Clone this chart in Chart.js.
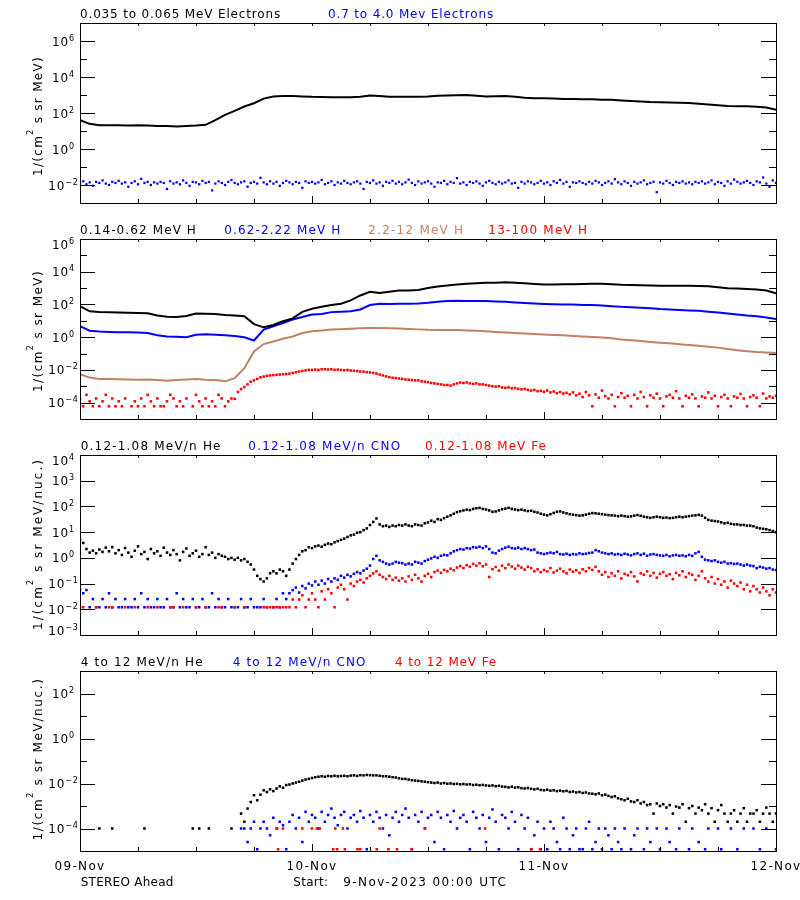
<!DOCTYPE html>
<html>
<head>
<meta charset="utf-8">
<title>STEREO Ahead particle fluxes</title>
<script src="https://cdn.jsdelivr.net/npm/chart.js@4.4.1/dist/chart.umd.min.js"></script>
<style>
  body { margin: 0; background: #fff; }
  #page { position: relative; width: 800px; height: 900px; }
  #page canvas { position: absolute; left: 0; top: 0; }
</style>
</head>
<body>
<div id="page">
  <canvas id="panel1" width="800" height="900"></canvas>
  <canvas id="panel2" width="800" height="900"></canvas>
  <canvas id="panel3" width="800" height="900"></canvas>
  <canvas id="panel4" width="800" height="900"></canvas>
</div>
<script>
// Hours since 9-Nov-2023 00:00 UTC
const tickHours = [6, 12, 18, 24, 30, 36, 42, 48, 54, 60, 66];
const dayHours = [0, 24, 48, 72];
const dayLabels = ['09-Nov', '10-Nov', '11-Nov', '12-Nov'];

// Panel 1: electrons (elecLow hourly, elecHigh every 20 min)
const elecLow = [
  40, 25, 21, 21, 21, 20, 21, 20, 19, 19, 18, 19,
  20, 22, 40, 79, 130, 230, 350, 630, 830, 890, 890, 830,
  790, 780, 760, 740, 740, 790, 930, 890, 810, 810, 790, 790,
  830, 910, 950, 980, 1000, 910, 830, 850, 890, 790, 710, 660,
  650, 630, 600, 600, 575, 575, 550, 540, 500, 470, 440, 410,
  400, 380, 370, 360, 330, 300, 270, 245, 240, 235, 220, 200,
  150
];
const elecHigh = [
  0.013, 0.016, 0.011, 0.014, 0.009, 0.015, 0.013, 0.018, 0.012, 0.010, 0.015, 0.013,
  0.017, 0.012, 0.014, 0.008, 0.013, 0.016, 0.011, 0.022, 0.013, 0.015, 0.010, 0.014,
  0.012, 0.015, 0.013, 0.006, 0.016, 0.012, 0.014, 0.011, 0.018, 0.013, 0.009, 0.015,
  0.014, 0.011, 0.017, 0.013, 0.015, 0.005, 0.012, 0.016, 0.013, 0.010, 0.015, 0.019,
  0.013, 0.011, 0.014, 0.016, 0.008, 0.013, 0.015, 0.012, 0.025, 0.014, 0.011, 0.016,
  0.012, 0.015, 0.009, 0.013, 0.017, 0.014, 0.011, 0.015, 0.013, 0.007, 0.016, 0.013,
  0.015, 0.012, 0.014, 0.019, 0.011, 0.013, 0.016, 0.010, 0.014, 0.012, 0.017, 0.013,
  0.011, 0.014, 0.016, 0.012, 0.006, 0.015, 0.013, 0.018, 0.012, 0.014, 0.009, 0.015,
  0.013, 0.017, 0.012, 0.015, 0.011, 0.014, 0.020, 0.013, 0.010, 0.016, 0.012, 0.014,
  0.016, 0.012, 0.008, 0.014, 0.013, 0.017, 0.011, 0.015, 0.013, 0.024, 0.012, 0.014,
  0.010, 0.015, 0.013, 0.016, 0.012, 0.009, 0.014, 0.017, 0.013, 0.011, 0.015, 0.012,
  0.014, 0.018, 0.012, 0.013, 0.007, 0.015, 0.012, 0.016, 0.014, 0.011, 0.013, 0.017,
  0.012, 0.014, 0.010, 0.016, 0.013, 0.019, 0.012, 0.015, 0.008, 0.014, 0.013, 0.016,
  0.013, 0.011, 0.015, 0.012, 0.017, 0.014, 0.010, 0.013, 0.016, 0.012, 0.021, 0.014,
  0.011, 0.016, 0.013, 0.009, 0.015, 0.012, 0.014, 0.018, 0.011, 0.013, 0.015, 0.004,
  0.014, 0.012, 0.017, 0.013, 0.010, 0.015, 0.013, 0.016, 0.012, 0.014, 0.011, 0.015,
  0.013, 0.016, 0.012, 0.014, 0.018, 0.011, 0.015, 0.013, 0.009, 0.016, 0.012, 0.020,
  0.015, 0.012, 0.014, 0.017, 0.013, 0.010, 0.016, 0.014, 0.026, 0.012, 0.008, 0.018,
  0.013
];

// Panel 2: protons (first three hourly, protonTop every 20 min)
const protonLow = [
  79, 38, 34, 33, 32, 31, 30, 29, 21, 18, 17, 20,
  28, 27, 26, 23, 21, 19, 6.3, 4.0, 5.6, 9.5, 14, 35,
  55, 72, 92, 110, 178, 355, 600, 500, 600, 720, 720, 760,
  1000, 1260, 1450, 1660, 1860, 2000, 2090, 2140, 2240, 2140, 1950, 1780,
  1660, 1660, 1700, 1700, 1780, 1860, 1820, 1700, 1580, 1550, 1480, 1450,
  1410, 1410, 1410, 1410, 1350, 1290, 1120, 980, 930, 890, 830, 710,
  480
];
const protonMid = [
  4.7, 2.5, 2.2, 2.1, 2.0, 2.0, 1.9, 1.8, 1.3, 1.1, 1.05, 1.0,
  1.4, 1.5, 1.4, 1.3, 1.2, 1.0, 0.63, 2.9, 4.7, 7.4, 12, 17,
  24, 26, 34, 36, 39, 49, 92, 110, 107, 110, 112, 115,
  126, 145, 162, 166, 162, 162, 162, 151, 145, 132, 123, 115,
  107, 102, 100, 98, 93, 91, 87, 79, 72, 68, 63, 58,
  52, 49, 46, 43, 41, 36, 32, 28, 24, 21, 19, 16,
  13
];
const protonHigh = [
  0.0054, 0.0034, 0.0028, 0.0028, 0.0027, 0.0026, 0.0025, 0.0026, 0.0024, 0.0022, 0.0024, 0.0026,
  0.0028, 0.0025, 0.0024, 0.0020, 0.0031, 0.0126, 0.135, 0.38, 0.55, 0.81, 1.1, 1.8,
  2.3, 2.6, 2.9, 3.1, 3.3, 3.5, 3.7, 3.6, 3.5, 3.4, 3.2, 3.0,
  2.8, 2.75, 2.75, 2.7, 2.6, 2.45, 2.3, 2.1, 1.95, 1.8, 1.66, 1.55,
  1.45, 1.35, 1.29, 1.2, 1.12, 1.02, 0.95, 0.85, 0.72, 0.65, 0.58, 0.51,
  0.46, 0.42, 0.37, 0.33, 0.30, 0.26, 0.23, 0.19, 0.16, 0.14, 0.126, 0.117,
  0.107
];
const protonTop = [
  1.8e-4, 6e-5, 3e-4, 1.2e-4, 6e-5, 1.8e-4, 6e-5, 1.2e-4, 3e-4, 6e-5, 1.8e-4, 6e-5,
  1.2e-4, 6e-5, 1.8e-4, null, 6e-5, 1.2e-4, 6e-5, 1.8e-4, 6e-5, 3e-4, 1.2e-4, 6e-5,
  1.8e-4, 6e-5, 6e-5, 1.2e-4, 3e-4, 1.8e-4, 6e-5, 1.2e-4, 6e-5, 1.8e-4, null, 6e-5,
  3e-4, 1.2e-4, 6e-5, 1.8e-4, 6e-5, 1.2e-4, 6e-5, 3e-4, 1.8e-4, 6e-5, 1.2e-4, 1.8e-4,
  1.7e-4, 4.5e-4, 6.8e-4, 9e-4, 1.3e-3, 1.9e-3, 2.3e-3, 2.8e-3, 3.5e-3, 3.9e-3, 4.4e-3, 4.6e-3,
  4.8e-3, 5.0e-3, 5.2e-3, 5.4e-3, 5.6e-3, 6.0e-3, 6.5e-3, 7.2e-3, 8.0e-3, 8.6e-3, 9.3e-3, 1.0e-2,
  1.0e-2, 1.05e-2, 1.0e-2, 1.1e-2, 1.1e-2, 1.05e-2, 1.1e-2, 1.0e-2, 1.05e-2, 1.0e-2, 9.5e-3, 9.8e-3,
  9.2e-3, 8.8e-3, 8.5e-3, 8.0e-3, 7.8e-3, 7.3e-3, 7.0e-3, 6.5e-3, 6.0e-3, 5.2e-3, 4.6e-3, 4.0e-3,
  3.6e-3, 3.3e-3, 3.2e-3, 3.0e-3, 2.8e-3, 2.6e-3, 2.5e-3, 2.4e-3, 2.3e-3, 2.3e-3, 2.0e-3, 1.9e-3,
  1.8e-3, 1.6e-3, 1.5e-3, 1.4e-3, 1.3e-3, 1.2e-3, 1.2e-3, 1.1e-3, 1.3e-3, 1.5e-3, 1.7e-3, 1.6e-3,
  1.7e-3, 1.5e-3, 1.4e-3, 1.5e-3, 1.3e-3, 1.3e-3, 1.2e-3, 1.1e-3, 1.0e-3, 9.5e-4, 1.0e-3, 8.5e-4,
  8.0e-4, 8.5e-4, 7.5e-4, 7.8e-4, 7.0e-4, 6.5e-4, 6.8e-4, 6.0e-4, 5.5e-4, 6.0e-4, 5.0e-4, 5.2e-4,
  4.6e-4, 5.5e-4, 4.2e-4, 4.8e-4, 3.8e-4, 4.4e-4, 3.6e-4, 4.0e-4, 3.2e-4, 4.2e-4, 2.8e-4, 3.5e-4,
  2.2e-4, 4.5e-4, 2.8e-4, 6e-5, 3.2e-4, 2.0e-4, 5.5e-4, 2.5e-4, 1.8e-4, 3.0e-4, 6e-5, 2.2e-4,
  3.8e-4, 2.0e-4, 2.6e-4, 6e-5, 3.0e-4, 1.8e-4, 4.5e-4, 2.2e-4, 6e-5, 2.8e-4, 2.0e-4, 3.5e-4,
  1.8e-4, 6e-5, 2.4e-4, 3.0e-4, 2.0e-4, 5e-4, 1.8e-4, 6e-5, 2.6e-4, 2.0e-4, 3.2e-4, 1.8e-4,
  6e-5, 2.4e-4, 2.0e-4, 4.2e-4, 1.8e-4, 2.6e-4, 6e-5, 2.2e-4, 3.0e-4, 1.8e-4, 6e-5, 2.4e-4,
  2.0e-4, 3.4e-4, 1.8e-4, 6e-5, 2.2e-4, 2.8e-4, 2.0e-4, 6e-5, 3.6e-4, 1.8e-4, 2.4e-4, 2.0e-4,
  2.6e-4
];

// Panel 3: 0.12-1.08 MeV/n ions, every 20 min
const heLow = [
  5.0, 3.8, 2.2, 1.6, 1.9, 1.5, 2.1, 1.7, 2.5, 1.8, 2.6, 1.5,
  2.0, 1.3, 2.4, 1.6, 1.1, 1.9, 2.8, 1.4, 1.7, 0.9, 2.2, 1.5,
  1.8, 1.2, 2.5, 1.6, 1.3, 2.0, 1.4, 0.8, 1.7, 2.3, 1.2, 1.5,
  1.9, 1.1, 1.4, 2.6, 1.3, 1.6, 1.0, 1.4, 1.2, 1.1, 0.9, 1.0,
  0.85, 1.0, 0.8, 0.9, 0.7, 0.55, 0.35, 0.2, 0.15, 0.12, 0.16, 0.25,
  0.3, 0.25, 0.35, 0.3, 0.2, 0.35, 0.6, 0.9, 1.3, 1.8, 2.0, 2.6,
  2.4, 2.8, 3.0, 2.7, 3.2, 3.6, 3.4, 4.0, 4.5, 5.0, 5.6, 6.5,
  7.5, 8.0, 9.5, 10, 12, 14, 19, 25, 34, 20, 17, 18,
  16, 18, 17, 19, 18, 20, 18, 17, 20, 19, 18, 22,
  24, 28, 25, 32, 30, 35, 40, 45, 52, 60, 65, 70,
  75, 72, 80, 85, 88, 80, 76, 70, 62, 64, 70, 78,
  82, 88, 80, 76, 72, 75, 70, 66, 68, 62, 58, 52,
  48, 45, 50, 56, 62, 64, 58, 54, 50, 48, 46, 44,
  45, 48, 52, 55, 54, 52, 50, 48, 46, 45, 44, 42,
  44, 42, 40, 41, 44, 46, 43, 40, 38, 36, 38, 40,
  38, 36, 37, 35, 36, 38, 40, 38, 40, 42, 44, 45,
  47, 44, 36, 30, 28, 27, 26, 24, 22, 23, 21, 20,
  20, 19, 19, 18, 18, 17, 15, 14, 13.5, 13, 12, 11, 10
];
const cnoLow = [
  0.056, 0.042, 0.056,
  0.012, 0.025, 0.012, 0.012, 0.025, 0.012, 0.042, 0.012, 0.025, 0.012, 0.012, 0.025,
  0.012, 0.012, 0.025, 0.012, 0.042, 0.012, 0.025, 0.012, 0.012, 0.025, 0.012, 0.012,
  0.025, 0.012, 0.012, 0.042, 0.012, 0.025, 0.012, 0.012, 0.025, 0.012, 0.012, 0.025,
  0.012, 0.012, 0.042, 0.012, 0.025, 0.012, 0.012, 0.025, 0.012, 0.012, 0.012, 0.025,
  0.012, 0.012, 0.025, 0.012, 0.012, 0.012, 0.025, 0.012, null, 0.012, 0.025, 0.012,
  0.042, 0.025, 0.042, 0.056, 0.07, 0.045, 0.08, 0.065, 0.1, 0.085, 0.12, 0.09,
  0.13, 0.1, 0.15, 0.12, 0.16, 0.14, 0.2, 0.17, 0.22, 0.19, 0.24, 0.28,
  0.25, 0.32, 0.38, 0.5, 0.9, 1.2, 0.8, 0.7, 0.6, 0.55, 0.6, 0.7,
  0.65, 0.62, 0.55,
  0.6, 0.55, 0.7, 0.65, 0.6, 0.75, 0.85, 0.95, 1.1, 1.0, 1.2, 1.3,
  1.25, 1.5, 1.8, 2.0, 2.2, 2.1, 2.4, 2.3, 2.6, 2.5, 2.7, 2.4,
  2.8, 2.2, 1.6, 1.5, 1.9, 2.2, 2.5, 2.7, 2.4, 2.3, 2.5, 2.2,
  2.4, 2.2, 2.0, 2.1, 1.6, 1.5, 1.4, 1.5, 1.6, 1.5, 1.7, 1.4,
  1.35, 1.45, 1.3, 1.4, 1.35, 1.5, 1.4, 1.45, 1.55, 1.6, 2.0, 1.8,
  1.6, 1.5, 1.4, 1.5, 1.35, 1.4, 1.3, 1.45, 1.35, 1.25, 1.4, 1.5,
  1.3, 1.45, 1.2, 1.35, 1.4, 1.3, 1.25, 1.2, 1.3, 1.15, 1.25, 1.3,
  1.2, 1.25, 1.15, 1.3, 1.2, 1.5, 1.7, 1.1, 0.85, 0.8, 0.75, 0.8,
  0.7, 0.65, 0.7, 0.6, 0.62, 0.58, 0.6, 0.55, 0.5, 0.55, 0.5, 0.48,
  0.4, 0.45, 0.42, 0.38, 0.4, 0.35, 0.34
];
const feLow = [
  0.012, 0.012, null, null, null, 0.012, null, null, null, 0.012, 0.012, null,
  null, null, 0.012, null, null, 0.012, null, null, null, 0.012, null, null,
  0.012, null, null, null, 0.012, 0.012, null, null, 0.012, null, null, null,
  0.012, null, null, 0.012, null, null, null, 0.012, 0.012, null, null, null,
  0.012, null, null, 0.012, null, null, null, null, null,
  0.012, 0.012, 0.012, 0.012, 0.012, 0.012, 0.012, 0.012, 0.012,
  0.024, 0.012, 0.024, 0.035, 0.012, 0.024, 0.042, 0.024, 0.012, 0.05, 0.024, 0.06,
  0.042, 0.012, 0.07, 0.09, 0.06, 0.024, 0.1, 0.08, 0.12, 0.14, 0.11, 0.16,
  0.2, 0.25, 0.3, 0.22, 0.18, 0.15, 0.2, 0.14, 0.17, 0.13, 0.16, 0.12,
  0.19, 0.14, 0.22, 0.16, 0.12, 0.2, 0.24, 0.18, 0.28, 0.32, 0.26, 0.34,
  0.3, 0.38, 0.33, 0.42, 0.48, 0.4, 0.52, 0.45, 0.58, 0.5, 0.62, 0.47,
  0.55, 0.18, 0.36, 0.44, 0.32, 0.5, 0.4, 0.55, 0.46, 0.38, 0.5, 0.42,
  0.35, 0.45, 0.4, 0.3, 0.36, 0.28, 0.34, 0.3, 0.4, 0.27, 0.32, 0.38,
  0.3, 0.25, 0.35, 0.29, 0.33, 0.26, 0.36, 0.3, 0.4, 0.34, 0.45, 0.3,
  0.22, 0.28, 0.18, 0.25, 0.2, 0.3, 0.16, 0.24, 0.21, 0.28, 0.19, 0.12,
  0.25, 0.22, 0.3, 0.2, 0.26, 0.17, 0.24, 0.28, 0.2, 0.23, 0.15, 0.26,
  0.21, 0.3, 0.18, 0.25, 0.22, 0.14, 0.2, 0.3, 0.16, 0.12, 0.18, 0.1,
  0.15, 0.09, 0.12, 0.07, 0.13, 0.1, 0.08, 0.11, 0.06, 0.09, 0.05, 0.08,
  0.06, 0.045, 0.07, 0.05, 0.035, 0.06, 0.045
];

// Panel 4: 4-12 MeV/n ions, every 20 min (Fe as separate times)
const heHigh = [
  null, null, null, null, null, null, 1e-4, null, null, null, 1e-4, null,
  null, null, null, null, null, null, null, null, 1e-4, null, null, null,
  null, null, null, null, null, null, null, null, null, null, null, 1e-4,
  null, 1e-4, null, null, 1e-4, null, null, null, null, null, null, 1e-4,
  null, null,
  4.6e-4, 2.0e-4, 7.7e-4, 1.5e-3, 3.0e-3, 1.8e-3, 3.2e-3, 5.0e-3, 4.2e-3, 5.5e-3, 4.6e-3, 6.0e-3,
  7.5e-3, 6.5e-3, 8.5e-3, 9.0e-3, 1.0e-2, 1.1e-2, 1.2e-2, 1.35e-2, 1.5e-2, 1.6e-2, 1.75e-2, 1.9e-2,
  2.0e-2, 2.1e-2, 2.0e-2, 2.15e-2, 2.1e-2, 2.2e-2, 2.1e-2, 2.15e-2, 2.2e-2, 2.1e-2, 2.25e-2, 2.3e-2,
  2.2e-2, 2.35e-2, 2.3e-2, 2.4e-2, 2.35e-2, 2.3e-2, 2.3e-2, 2.2e-2, 2.1e-2, 2.1e-2, 2.0e-2, 1.9e-2,
  1.85e-2, 1.7e-2, 1.6e-2, 1.6e-2, 1.5e-2, 1.4e-2, 1.35e-2, 1.3e-2, 1.25e-2, 1.2e-2, 1.15e-2, 1.1e-2,
  1.05e-2, 1.1e-2, 1.0e-2, 1.05e-2, 9.8e-3, 1.0e-2, 9.5e-3, 9.7e-3, 9.2e-3, 9.5e-3, 9.0e-3, 9.2e-3,
  8.6e-3, 8.8e-3, 8.4e-3, 8.6e-3, 8.2e-3, 7.9e-3, 8.2e-3, 7.6e-3, 7.9e-3, 7.3e-3, 7.1e-3, 6.7e-3,
  7.2e-3, 6.6e-3, 6.8e-3, 6.2e-3, 6.0e-3, 6.3e-3, 5.8e-3, 5.5e-3, 5.8e-3, 5.2e-3, 5.0e-3, 5.3e-3,
  4.8e-3, 5.0e-3, 4.6e-3, 4.8e-3, 4.5e-3, 4.7e-3, 4.2e-3, 4.4e-3, 4.0e-3, 4.2e-3, 3.8e-3, 4.0e-3,
  3.6e-3, 3.5e-3, 3.3e-3, 3.6e-3, 3.0e-3, 3.2e-3, 2.8e-3, 2.5e-3, 2.7e-3, 2.2e-3, 2.0e-3, 1.8e-3,
  2.1e-3, 1.6e-3, 1.5e-3, 1.8e-3, 1.3e-3, 1.5e-3, 1.1e-3, 1.2e-3, 4.6e-4, 1.3e-3, 1.0e-3, 1.2e-3,
  8.5e-4, 1.1e-3, 4.6e-4, 9.5e-4, 8.5e-4, 1.2e-3, 2.0e-4, 8.0e-4, 1.0e-3, 4.6e-4, 8.5e-4, 6.5e-4,
  1.2e-3, 4.6e-4, 8.0e-4, 2.0e-4, 6.5e-4, 1.1e-3, 4.6e-4, 2.0e-4, 4.6e-4, 6.5e-4, 2.0e-4, 4.6e-4,
  8.0e-4, 2.0e-4, 4.6e-4, 4.6e-4, 6.5e-4, 2.0e-4, 4.6e-4, 8.5e-4, 4.6e-4, 2.0e-4, 4.6e-4
];
const cnoHigh = [
  null, null, null, null, null, null, null, null, null, null, null, null,
  null, null, null, null, null, null, null, null, null, null, null, null,
  null, null, null, null, null, null, null, null, null, null, null, null,
  null, null, null, null, null, null, null, null, null, null, null, null,
  null, null,
  1e-4, 1e-4, 2.5e-5, 1e-4, 2e-4, 1.2e-5, 1e-4, 2e-4, 1e-4, 5e-5,
  3e-4, 1e-4, 2e-4, 1.4e-4, 1.2e-5, 2e-4, 4e-4, 1e-4, 3e-4, 2.5e-5, 5.5e-4, 2e-4,
  4e-4, 3e-4, 1e-4, 5.5e-4, 2e-4, 4e-4, 7.7e-4, 3e-4, 1.4e-4, 4e-4, 5.5e-4, 1e-4,
  3e-4, 4e-4, 2e-4, 6e-4, 3e-4, 1.2e-5, 4e-4, 2e-4, 5.5e-4, 3e-4, 1e-4, 4e-4,
  5e-5, 3e-4, 5.5e-4, 2e-4, 4e-4, 7.7e-4, 3e-4, 1.2e-5, 4e-4, 2e-4, 5.5e-4, 1e-4,
  3e-4, 4e-4, 2.5e-5, 5.5e-4, 3e-4, 1.2e-5, 4e-4, 2e-4, 6e-4, 1e-4, 3e-4, 4e-4,
  2e-4, 1.2e-5, 5.5e-4, 3e-4, 1e-4, 4e-4, 2.5e-5, 3e-4, 7e-4, 2e-4, 1.2e-5, 4e-4,
  3e-4, 1e-4, 5.5e-4, 2e-4, 1.2e-5, 4e-4, 1e-4, 3e-4, 1.2e-5, 5e-5, 2e-4, 1.2e-5,
  1e-4, 1.2e-5, 2e-4, 1e-4, 2.5e-5, 1.2e-5, 3e-4, 1e-4, 1.2e-5, 5e-5, 1e-4, 1.2e-5,
  1.2e-5, 1e-4, 2e-4, 1.2e-5, 2.5e-5, 1e-4, 1.2e-5, 1e-4, 5e-5, 1.2e-5, 1e-4, 2.5e-5,
  1.2e-5, 1e-4, null, 1.2e-5, 5e-5, 1e-4, null, 1.2e-5, 1e-4, 2.5e-5, null, 1e-4,
  1.2e-5, null, 1e-4, 2.5e-5, null, 1.2e-5, 1e-4, null, null, 1.2e-5, 1e-4, null,
  2.5e-5, null, 1.2e-5, 1e-4, null, null, 1e-4, 1.2e-5, null, null, 1e-4, null,
  1.2e-5, null, 1e-4, null, null, 1e-4, null, 1.2e-5, null, 1e-4, null, null, 1.2e-5
];
const feHighHours = [20.4, 20.5, 21.0, 23.0, 24.0, 24.5, 24.8, 26.2, 26.4, 26.6, 27.2, 27.4,
  28.7, 29.0, 30.7, 31.0, 31.9, 32.8, 34.3, 35.7, 41.9, 46.7, 47.6];
const feHighVals = [1e-4, 1.2e-5, 1e-4, 1e-4, 1e-4, 1e-4, 1e-4, 1.2e-5, 1e-4, 1.2e-5, 1e-4, 1.2e-5,
  1.2e-5, 1.2e-5, 1.2e-5, 1e-4, 1.2e-5, 1.2e-5, 1.2e-5, 1e-4, 1e-4, 1.2e-5, 1.2e-5];

const BLACK = '#000000', BLUE = '#0000ff', RED = '#ff0000', BROWN = '#c28064';
const FONT = '"DejaVu Sans", sans-serif';

function hourly(vals) { return vals.map((v, i) => ({ x: i, y: v })); }
function every20(vals) { return vals.map((v, i) => ({ x: i / 3, y: v })); }
function paired(hours, vals) { return hours.map((h, i) => ({ x: h, y: vals[i] })); }

function lineSet(data, color, order) {
  return { data, showLine: true, borderColor: color, borderWidth: 2, pointRadius: 0, order };
}
function dotSet(data, color, order, radius) {
  return { data, showLine: false, backgroundColor: color, borderWidth: 0,
    pointRadius: radius || 1.8, pointStyle: 'rect', order };
}

// stretch text to the width it has in the reference
function fitText(ctx, text, x, y, width) {
  ctx.font = '12px ' + FONT;
  ctx.letterSpacing = '0px';
  const natural = ctx.measureText(text).width;
  ctx.letterSpacing = ((width - natural) / text.length) + 'px';
  ctx.fillText(text, x, y);
  ctx.letterSpacing = '0px';
}

function drawPower(ctx, exp, cx, cy) {
  const sup = exp < 0 ? '\u2212' + (-exp) : String(exp);
  ctx.letterSpacing = '0.8px';
  ctx.font = '12px ' + FONT;
  const bw = ctx.measureText('10').width;
  ctx.font = '8px ' + FONT;
  const sw = ctx.measureText(sup).width;
  const left = cx - (bw + sw) / 2;
  ctx.font = '12px ' + FONT;
  ctx.fillText('10', left, cy + 4.5);
  ctx.font = '8px ' + FONT;
  ctx.fillText(sup, left + bw, cy - 0.5);
  ctx.letterSpacing = '0px';
}

function drawUnit(ctx, unit, midY, length) {
  ctx.save();
  ctx.translate(41.5, midY);
  ctx.rotate(-Math.PI / 2);
  ctx.letterSpacing = '0px';
  ctx.font = '12px ' + FONT;
  const w1 = ctx.measureText('1/(cm').width;
  const w3 = ctx.measureText(unit).width;
  ctx.font = '8px ' + FONT;
  const w2 = ctx.measureText('2').width;
  const sp = (length - w1 - w2 - w3) / (6 + unit.length);
  let x = -length / 2;
  ctx.letterSpacing = sp + 'px';
  ctx.font = '12px ' + FONT;
  ctx.fillText('1/(cm', x, 0);
  x += w1 + 5 * sp;
  ctx.font = '8px ' + FONT;
  ctx.fillText('2', x, -9);
  x += w2 + sp;
  ctx.font = '12px ' + FONT;
  ctx.fillText(unit, x, 0);
  ctx.restore();
}

function framePlugin(p) {
  return {
    id: 'frame',
    afterDraw(chart) {
      const ctx = chart.ctx, a = chart.chartArea;
      const xs = chart.scales.x, ys = chart.scales.y;
      ctx.save();
      ctx.strokeStyle = BLACK;
      ctx.fillStyle = BLACK;
      ctx.lineWidth = 1;
      ctx.strokeRect(a.left + 0.5, a.top + 0.5, a.right - a.left, a.bottom - a.top);

      ctx.beginPath();
      tickHours.forEach(h => {
        const x = Math.round(xs.getPixelForValue(h)) + 0.5;
        const len = h % 24 === 0 ? 7 : 4;
        ctx.moveTo(x, a.bottom); ctx.lineTo(x, a.bottom - len);
        ctx.moveTo(x, a.top); ctx.lineTo(x, a.top + 3);
      });
      const yTick = (e, len) => {
        const y = Math.round(ys.getPixelForValue(Math.pow(10, e))) + 0.5;
        ctx.moveTo(a.left, y); ctx.lineTo(a.left + len, y);
        ctx.moveTo(a.right, y); ctx.lineTo(a.right - len, y);
      };
      p.majors.forEach(e => yTick(e, 15));
      p.minors.forEach(e => yTick(e, 7));
      ctx.stroke();

      p.majors.forEach(e => {
        let y = ys.getPixelForValue(Math.pow(10, e));
        y = Math.min(Math.max(y, a.top + 5), a.bottom - 5);
        drawPower(ctx, e, 63.5, y);
      });

      ctx.textAlign = 'left';
      ctx.textBaseline = 'alphabetic';
      p.titles.forEach(t => {
        ctx.fillStyle = t.color;
        fitText(ctx, t.text, t.x, p.titleBase, t.w);
      });
      ctx.fillStyle = BLACK;
      drawUnit(ctx, p.unit, p.unitMid, p.unitLen);

      if (p.showDates) {
        dayHours.forEach((h, i) => {
          const x = xs.getPixelForValue(h);
          fitText(ctx, dayLabels[i], x - 25.5, 870, 51);
        });
        fitText(ctx, 'STEREO Ahead', 80.7, 886, 93);
        fitText(ctx, 'Start:', 293.3, 886, 35);
        fitText(ctx, '9-Nov-2023 00:00 UTC', 343.3, 886, 164);
      }
      ctx.restore();
    }
  };
}

const panels = [
  {
    id: 'panel1', top: 23, bottom: 203, yMin: 1e-3, yMax: 1e7,
    majors: [6, 4, 2, 0, -2], minors: [5, 3, 1, -1],
    unit: ' s sr MeV)', unitMid: 116, unitLen: 120, titleBase: 18,
    titles: [
      { text: '0.035 to 0.065 MeV Electrons', color: BLACK, x: 80, w: 201 },
      { text: '0.7 to 4.0 Mev Electrons', color: BLUE, x: 328, w: 166 }
    ],
    datasets: [lineSet(hourly(elecLow), BLACK, 0), dotSet(every20(elecHigh), BLUE, 1, 1.6)]
  },
  {
    id: 'panel2', top: 239, bottom: 419, yMin: 1e-5, yMax: 1e6,
    majors: [6, 4, 2, 0, -2, -4], minors: [5, 3, 1, -1, -3],
    unit: ' s sr MeV)', unitMid: 331, unitLen: 122, titleBase: 233.5,
    titles: [
      { text: '0.14-0.62 MeV H', color: BLACK, x: 80, w: 117 },
      { text: '0.62-2.22 MeV H', color: BLUE, x: 224.3, w: 117 },
      { text: '2.2-12 MeV H', color: BROWN, x: 368.3, w: 96 },
      { text: '13-100 MeV H', color: RED, x: 488.3, w: 100 }
    ],
    datasets: [
      lineSet(hourly(protonLow), BLACK, 0),
      lineSet(hourly(protonMid), BLUE, 1),
      lineSet(hourly(protonHigh), BROWN, 2),
      dotSet(every20(protonTop), RED, 3)
    ]
  },
  {
    id: 'panel3', top: 455, bottom: 635, yMin: 1e-3, yMax: 1e4,
    majors: [4, 3, 2, 1, 0, -1, -2, -3], minors: [],
    unit: ' s sr MeV/nuc.)', unitMid: 544, unitLen: 172, titleBase: 449.5,
    titles: [
      { text: '0.12-1.08 MeV/n He', color: BLACK, x: 80.7, w: 141 },
      { text: '0.12-1.08 MeV/n CNO', color: BLUE, x: 248.3, w: 153 },
      { text: '0.12-1.08 MeV Fe', color: RED, x: 425, w: 122 }
    ],
    datasets: [
      dotSet(every20(heLow), BLACK, 0),
      dotSet(every20(feLow), RED, 1),
      dotSet(every20(cnoLow), BLUE, 2)
    ]
  },
  {
    id: 'panel4', top: 671, bottom: 851, yMin: 1e-5, yMax: 1e3,
    majors: [2, 0, -2, -4], minors: [1, -1, -3],
    unit: ' s sr MeV/nuc.)', unitMid: 759, unitLen: 163, titleBase: 666,
    titles: [
      { text: '4 to 12 MeV/n He', color: BLACK, x: 80.7, w: 123 },
      { text: '4 to 12 MeV/n CNO', color: BLUE, x: 232.7, w: 134 },
      { text: '4 to 12 MeV Fe', color: RED, x: 395, w: 102 }
    ],
    showDates: true,
    datasets: [
      dotSet(every20(heHigh), BLACK, 0),
      dotSet(paired(feHighHours, feHighVals), RED, 1),
      dotSet(every20(cnoHigh), BLUE, 2)
    ]
  }
];

panels.forEach(p => {
  new Chart(document.getElementById(p.id), {
    type: 'scatter',
    data: { datasets: p.datasets },
    options: {
      responsive: false,
      animation: false,
      devicePixelRatio: 1,
      events: [],
      layout: { padding: { left: 80, right: 24, top: p.top, bottom: 900 - p.bottom } },
      plugins: { legend: { display: false }, tooltip: { enabled: false } },
      scales: {
        x: { type: 'linear', min: 0, max: 72, bounds: 'data', display: false },
        y: { type: 'logarithmic', min: p.yMin, max: p.yMax, bounds: 'data', display: false }
      }
    },
    plugins: [framePlugin(p)]
  });
});
</script>
</body>
</html>
